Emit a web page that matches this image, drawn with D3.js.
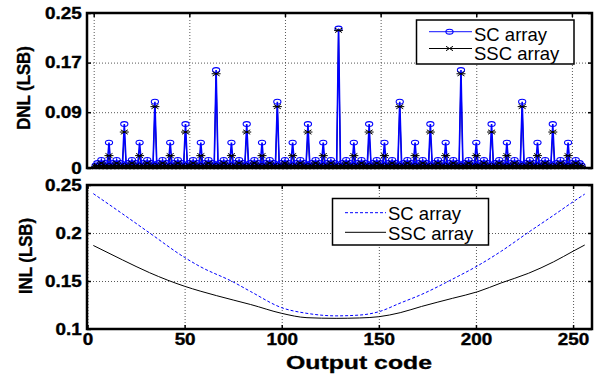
<!DOCTYPE html>
<html><head><meta charset="utf-8">
<script src="https://cdn.jsdelivr.net/npm/d3@7"></script>
<style>body{margin:0;background:#fff}</style>
</head><body><svg id="c" width="600" height="375"></svg>
<script>
// ---------- data ----------
const dnlCodes = d3.range(1, 256);
const dnlSC = [
0.004,0.008,0.004,0.013,0.004,0.008,0.004,0.041,
0.004,0.008,0.004,0.013,0.004,0.008,0.004,0.071,
0.004,0.008,0.004,0.013,0.004,0.008,0.004,0.041,
0.004,0.008,0.004,0.013,0.004,0.008,0.004,0.107,
0.004,0.008,0.004,0.013,0.004,0.008,0.004,0.041,
0.004,0.008,0.004,0.013,0.004,0.008,0.004,0.071,
0.004,0.008,0.004,0.013,0.004,0.008,0.004,0.041,
0.004,0.008,0.004,0.013,0.004,0.008,0.004,0.158,
0.004,0.008,0.004,0.013,0.004,0.008,0.004,0.041,
0.004,0.008,0.004,0.013,0.004,0.008,0.004,0.071,
0.004,0.008,0.004,0.013,0.004,0.008,0.004,0.041,
0.004,0.008,0.004,0.013,0.004,0.008,0.004,0.107,
0.004,0.008,0.004,0.013,0.004,0.008,0.004,0.041,
0.004,0.008,0.004,0.013,0.004,0.008,0.004,0.071,
0.004,0.008,0.004,0.013,0.004,0.008,0.004,0.041,
0.004,0.008,0.004,0.013,0.004,0.008,0.004,0.225,
0.004,0.008,0.004,0.013,0.004,0.008,0.004,0.041,
0.004,0.008,0.004,0.013,0.004,0.008,0.004,0.071,
0.004,0.008,0.004,0.013,0.004,0.008,0.004,0.041,
0.004,0.008,0.004,0.013,0.004,0.008,0.004,0.107,
0.004,0.008,0.004,0.013,0.004,0.008,0.004,0.041,
0.004,0.008,0.004,0.013,0.004,0.008,0.004,0.071,
0.004,0.008,0.004,0.013,0.004,0.008,0.004,0.041,
0.004,0.008,0.004,0.013,0.004,0.008,0.004,0.158,
0.004,0.008,0.004,0.013,0.004,0.008,0.004,0.041,
0.004,0.008,0.004,0.013,0.004,0.008,0.004,0.071,
0.004,0.008,0.004,0.013,0.004,0.008,0.004,0.041,
0.004,0.008,0.004,0.013,0.004,0.008,0.004,0.107,
0.004,0.008,0.004,0.013,0.004,0.008,0.004,0.041,
0.004,0.008,0.004,0.013,0.004,0.008,0.004,0.071,
0.004,0.008,0.004,0.013,0.004,0.008,0.004,0.041,
0.004,0.008,0.004,0.013,0.004,0.008,0.004
];
const dnlSSC = [
0.002,0.004,0.002,0.008,0.002,0.004,0.002,0.020,
0.002,0.004,0.002,0.008,0.002,0.004,0.002,0.058,
0.002,0.004,0.002,0.008,0.002,0.004,0.002,0.020,
0.002,0.004,0.002,0.008,0.002,0.004,0.002,0.099,
0.002,0.004,0.002,0.008,0.002,0.004,0.002,0.020,
0.002,0.004,0.002,0.008,0.002,0.004,0.002,0.058,
0.002,0.004,0.002,0.008,0.002,0.004,0.002,0.020,
0.002,0.004,0.002,0.008,0.002,0.004,0.002,0.152,
0.002,0.004,0.002,0.008,0.002,0.004,0.002,0.020,
0.002,0.004,0.002,0.008,0.002,0.004,0.002,0.058,
0.002,0.004,0.002,0.008,0.002,0.004,0.002,0.020,
0.002,0.004,0.002,0.008,0.002,0.004,0.002,0.099,
0.002,0.004,0.002,0.008,0.002,0.004,0.002,0.020,
0.002,0.004,0.002,0.008,0.002,0.004,0.002,0.058,
0.002,0.004,0.002,0.008,0.002,0.004,0.002,0.020,
0.002,0.004,0.002,0.008,0.002,0.004,0.002,0.222,
0.002,0.004,0.002,0.008,0.002,0.004,0.002,0.020,
0.002,0.004,0.002,0.008,0.002,0.004,0.002,0.058,
0.002,0.004,0.002,0.008,0.002,0.004,0.002,0.020,
0.002,0.004,0.002,0.008,0.002,0.004,0.002,0.099,
0.002,0.004,0.002,0.008,0.002,0.004,0.002,0.020,
0.002,0.004,0.002,0.008,0.002,0.004,0.002,0.058,
0.002,0.004,0.002,0.008,0.002,0.004,0.002,0.020,
0.002,0.004,0.002,0.008,0.002,0.004,0.002,0.152,
0.002,0.004,0.002,0.008,0.002,0.004,0.002,0.020,
0.002,0.004,0.002,0.008,0.002,0.004,0.002,0.058,
0.002,0.004,0.002,0.008,0.002,0.004,0.002,0.020,
0.002,0.004,0.002,0.008,0.002,0.004,0.002,0.099,
0.002,0.004,0.002,0.008,0.002,0.004,0.002,0.020,
0.002,0.004,0.002,0.008,0.002,0.004,0.002,0.058,
0.002,0.004,0.002,0.008,0.002,0.004,0.002,0.020,
0.002,0.004,0.002,0.008,0.002,0.004,0.002
];
const inlCodes = [3,18,32,50,58,75,84,100,113,128,140,150,161,172,188,201,213,227,240,250,256];
const inlSC  = [0.241,0.220,0.200,0.1745,0.165,0.149,0.139,0.1222,0.1163,0.1137,0.1145,0.118,0.127,0.136,0.152,0.166,0.181,0.2007,0.2185,0.2325,0.2405];
const inlSSC = [0.187,0.172,0.1586,0.1445,0.1395,0.1302,0.1255,0.1163,0.1118,0.1111,0.1115,0.1128,0.117,0.1235,0.132,0.1389,0.148,0.158,0.170,0.181,0.1875];
const xTicks = [0, 50, 100, 150, 200, 250];
const xTickLabels = ["0", "50", "100", "150", "200", "250"];
const dnlTicks = [0, 0.09, 0.17, 0.25];
const dnlTickLabels = ["0", "0.09", "0.17", "0.25"];
const inlTicks = [0.1, 0.15, 0.2, 0.25];
const inlTickLabels = ["0.1", "0.15", "0.2", "0.25"];
const seriesNames = ["SC array", "SSC array"];
const xLabel = "Output code";
const dnlLabel = "DNL (LSB)";
const inlLabel = "INL (LSB)";

// ---------- drawing ----------
const svg = d3.select("#c");
svg.append("rect").attr("width",600).attr("height",375).attr("fill","#fff");
const FONT = "'Liberation Sans', Arial, Helvetica, sans-serif";
const BLUE = "#0000ff";

const P1 = {l:87, r:592, t:13, b:168};
const P2 = {l:87, r:592, t:185, b:329};

const x1 = d3.scaleLinear().domain([-3.5, 260.5]).range([P1.l, P1.r]);
const y1 = d3.scaleLinear().domain([0, 0.25]).range([P1.b, P1.t]);
const x2 = d3.scaleLinear().domain([0, 260]).range([P2.l + 0.5, P2.r + 0.5]);
const y2 = d3.scaleLinear().domain([0.1, 0.25]).range([P2.b, P2.t]);

function grid(P, xs, ys, xv, yv) {
  const g = svg.append("g");
  g.append("g").attr("transform",`translate(0,${P.b})`)
    .call(d3.axisBottom(xs).tickValues(xv).tickSize(-(P.b-P.t)).tickFormat(""))
    .call(s => s.select(".domain").remove());
  g.append("g").attr("transform",`translate(${P.l},0)`)
    .call(d3.axisLeft(ys).tickValues(yv).tickSize(-(P.r-P.l)).tickFormat(""))
    .call(s => s.select(".domain").remove());
  g.selectAll(".tick line").attr("stroke","#444").attr("stroke-width",0.9).attr("stroke-dasharray","1,2");
}
function frame(P, xs, ys, xv, yv, yLabels, xLabels) {
  const g = svg.append("g");
  const ax = [
    g.append("g").attr("transform",`translate(0,${P.b})`).call(d3.axisBottom(xs).tickValues(xv).tickSize(-4).tickPadding(5).tickFormat((d,i)=> xLabels ? xLabels[i] : "")),
    g.append("g").attr("transform",`translate(0,${P.t})`).call(d3.axisTop(xs).tickValues(xv).tickSize(-4).tickFormat("")),
    g.append("g").attr("transform",`translate(${P.l},0)`).call(d3.axisLeft(ys).tickValues(yv).tickSize(-4).tickPadding(4.5).tickFormat((d,i)=>yLabels[i])),
    g.append("g").attr("transform",`translate(${P.r},0)`).call(d3.axisRight(ys).tickValues(yv).tickSize(-4).tickFormat(""))
  ];
  ax.forEach(a => {
    a.select(".domain").remove();
    a.selectAll(".tick line").attr("stroke","#000").attr("stroke-width",1.5);
    a.selectAll("text").attr("font-family",FONT).attr("font-weight","bold")
      .attr("font-size",16).attr("fill","#000").attr("stroke","#000").attr("stroke-width",0.35)
      .attr("transform","scale(1.18,1)");
  });
  g.append("rect").attr("x",P.l).attr("y",P.t).attr("width",P.r-P.l).attr("height",P.b-P.t)
    .attr("fill","none").attr("stroke","#000").attr("stroke-width",2.5);
}

// ---- top panel: DNL ----
grid(P1, x1, y1, xTicks, dnlTicks);
const dnlLine = (vals) => d3.line().x((d,i)=>x1(dnlCodes[i])).y(d=>y1(d))(vals);
svg.append("path").attr("d", dnlLine(dnlSSC)).attr("fill","none").attr("stroke","#000").attr("stroke-width",1);
svg.append("path").attr("d", dnlLine(dnlSC)).attr("fill","none").attr("stroke",BLUE).attr("stroke-width",1.6);
svg.append("g").selectAll("ellipse").data(dnlSC).join("ellipse")
  .attr("cx",(d,i)=>x1(dnlCodes[i])).attr("cy",d=>y1(d)).attr("rx",3.6).attr("ry",2.4)
  .attr("fill","none").attr("stroke",BLUE).attr("stroke-width",1.1);
function crossPath(cx, cy, w, h) {
  return `M${cx-w},${cy-h}L${cx+w},${cy+h}M${cx-w},${cy+h}L${cx+w},${cy-h}M${cx-w-1},${cy}L${cx+w+1},${cy}`;
}
svg.append("g").selectAll("path").data(dnlSSC).join("path")
  .attr("d",(d,i)=>crossPath(x1(dnlCodes[i]), y1(d), 3.5, 2.2))
  .attr("fill","none").attr("stroke","#000").attr("stroke-width",1);
frame(P1, x1, y1, xTicks, dnlTicks, dnlTickLabels, null);

// legend top
const L1 = svg.append("g");
L1.append("rect").attr("x",416.5).attr("y",20).attr("width",157.5).attr("height",44)
  .attr("fill","#fff").attr("stroke","#000").attr("stroke-width",1.5);
L1.append("line").attr("x1",429).attr("x2",472).attr("y1",31.7).attr("y2",31.7).attr("stroke",BLUE).attr("stroke-width",1.2).attr("opacity",0.75);
L1.append("ellipse").attr("cx",449.5).attr("cy",31.7).attr("rx",3.6).attr("ry",2.4).attr("fill","none").attr("stroke",BLUE).attr("stroke-width",1.1);
L1.append("line").attr("x1",429).attr("x2",472).attr("y1",48.5).attr("y2",48.5).attr("stroke","#000").attr("stroke-width",1);
L1.append("path").attr("d",crossPath(449.5,48.5,3.5,2.2)).attr("stroke","#000").attr("fill","none");
L1.selectAll("text").data(seriesNames).join("text")
  .attr("x",474).attr("y",(d,i)=> i===0 ? 41 : 60)
  .attr("font-family",FONT).attr("font-size",18.5).attr("fill","#000").text(d=>d);

// ---- bottom panel: INL ----
grid(P2, x2, y2, xTicks, inlTicks);
const inlLine = (vals) => d3.line().x((d,i)=>x2(inlCodes[i])).y(d=>y2(d)).curve(d3.curveMonotoneX)(vals);
svg.append("path").attr("d", inlLine(inlSC)).attr("fill","none").attr("stroke",BLUE).attr("stroke-width",1).attr("stroke-dasharray","3,2");
svg.append("path").attr("d", inlLine(inlSSC)).attr("fill","none").attr("stroke","#000").attr("stroke-width",1);
frame(P2, x2, y2, xTicks, inlTicks, inlTickLabels, xTickLabels);

// legend bottom
const L2 = svg.append("g");
L2.append("rect").attr("x",332.5).attr("y",198.5).attr("width",156).attr("height",46.5)
  .attr("fill","#fff").attr("stroke","#000").attr("stroke-width",1.5);
L2.append("line").attr("x1",345).attr("x2",386).attr("y1",212.7).attr("y2",212.7).attr("stroke",BLUE).attr("stroke-width",1).attr("stroke-dasharray","3,2");
L2.append("line").attr("x1",345).attr("x2",386).attr("y1",232.3).attr("y2",232.3).attr("stroke","#000").attr("stroke-width",1);
L2.selectAll("text").data(seriesNames).join("text")
  .attr("x",388).attr("y",(d,i)=> i===0 ? 219.5 : 239.5)
  .attr("font-family",FONT).attr("font-size",18.5).attr("fill","#000").text(d=>d);

// axis titles
svg.append("text").attr("x",286).attr("y",369).attr("font-family",FONT).attr("font-weight","bold")
  .attr("font-size",18).attr("stroke","#000").attr("stroke-width",0.3)
  .attr("textLength",146).attr("lengthAdjust","spacingAndGlyphs").text(xLabel);
function yTitle(txt, cx, cy) {
  svg.append("text").attr("transform",`translate(${cx},${cy}) rotate(-90) scale(1,1.12)`)
    .attr("text-anchor","middle").attr("dy","0.36em")
    .attr("font-family",FONT).attr("font-weight","bold").attr("font-size",16.8)
    .attr("stroke","#000").attr("stroke-width",0.3).text(txt);
}
yTitle(dnlLabel, 23, 88);
yTitle(inlLabel, 25, 256);
</script></body></html>
